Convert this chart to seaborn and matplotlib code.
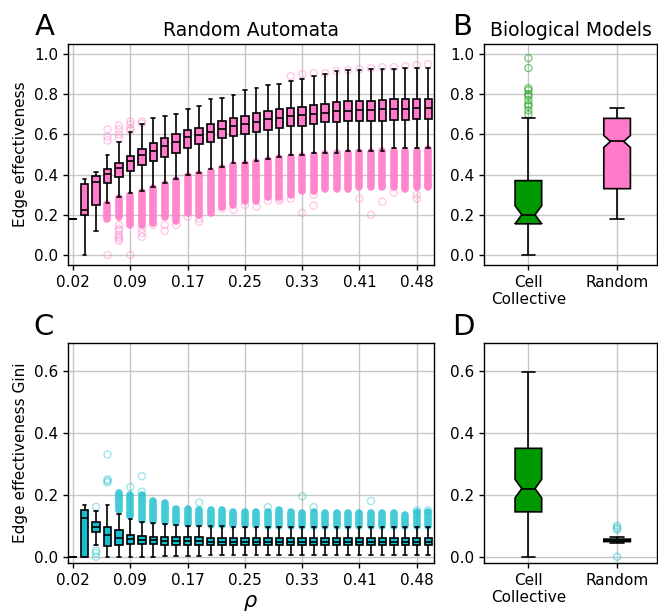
import numpy as np
import pandas as pd
import matplotlib
matplotlib.use("Agg")
import matplotlib.pyplot as plt
import seaborn as sns

# densities rho = k/64
rho = [0.0156, 0.0312, 0.0469, 0.0625, 0.0781, 0.0938, 0.1094, 0.1250,
       0.1406, 0.1562, 0.1719, 0.1875, 0.2031, 0.2188, 0.2344, 0.2500,
       0.2656, 0.2812, 0.2969, 0.3125, 0.3281, 0.3438, 0.3594, 0.3750,
       0.3906, 0.4062, 0.4219, 0.4375, 0.4531, 0.4688, 0.4844, 0.5000]
tick_idx = [0, 5, 10, 15, 20, 25, 30]

# --- A: edge effectiveness, random automata (whisker lo, q1, median, q3, whisker hi)
eff_lo = [0.18, 0.00, 0.12, 0.26, 0.29, 0.31, 0.32, 0.34, 0.36, 0.38, 0.40, 0.41,
          0.43, 0.44, 0.46, 0.46, 0.47, 0.48, 0.49, 0.50, 0.50, 0.51, 0.51, 0.51,
          0.52, 0.52, 0.52, 0.52, 0.53, 0.53, 0.53, 0.53]
eff_q1 = [0.18, 0.20, 0.25, 0.36, 0.39, 0.42, 0.45, 0.47, 0.49, 0.51, 0.53, 0.55,
          0.56, 0.58, 0.59, 0.60, 0.61, 0.62, 0.63, 0.64, 0.64, 0.65, 0.66, 0.66,
          0.665, 0.665, 0.667, 0.669, 0.67, 0.673, 0.676, 0.676]
eff_med = [0.18, 0.225, 0.365, 0.405, 0.432, 0.468, 0.498, 0.52, 0.54, 0.56, 0.586, 0.598,
           0.613, 0.628, 0.643, 0.65, 0.664, 0.678, 0.684, 0.693, 0.698, 0.703, 0.709, 0.716,
           0.719, 0.723, 0.723, 0.726, 0.728, 0.728, 0.731, 0.731]
eff_q3 = [0.18, 0.355, 0.395, 0.427, 0.46, 0.495, 0.527, 0.556, 0.581, 0.603, 0.62, 0.631,
          0.653, 0.668, 0.683, 0.694, 0.706, 0.716, 0.726, 0.734, 0.739, 0.747, 0.752, 0.759,
          0.764, 0.764, 0.768, 0.772, 0.774, 0.775, 0.777, 0.777]
eff_hi = [0.18, 0.38, 0.415, 0.50, 0.56, 0.61, 0.653, 0.681, 0.694, 0.703, 0.728, 0.742,
          0.776, 0.779, 0.796, 0.82, 0.83, 0.844, 0.85, 0.864, 0.877, 0.889, 0.90, 0.914,
          0.919, 0.922, 0.925, 0.925, 0.927, 0.93, 0.93, 0.933]
# dense cloud of outliers under the lower whisker (top, bottom); 0 = none
eff_band_hi = [0, 0, 0, 0.255, 0.285, 0.30, 0.315, 0.335, 0.355, 0.375, 0.395, 0.405,
               0.42, 0.435, 0.45, 0.455, 0.465, 0.475, 0.485, 0.49, 0.495, 0.50, 0.505, 0.51,
               0.51, 0.515, 0.515, 0.52, 0.52, 0.52, 0.52, 0.525]
eff_band_lo = [0, 0, 0, 0.18, 0.19, 0.15, 0.15, 0.16, 0.19, 0.17, 0.21, 0.20,
               0.21, 0.24, 0.25, 0.27, 0.27, 0.29, 0.29, 0.30, 0.32, 0.32, 0.33, 0.33,
               0.33, 0.34, 0.34, 0.34, 0.34, 0.33, 0.34, 0.34]
# isolated outliers
eff_fliers = [[], [], [], [0.625, 0.59, 0.57, 0.0],
              [0.645, 0.625, 0.60, 0.58, 0.15, 0.13, 0.12, 0.10, 0.09, 0.08, 0.07],
              [0.665, 0.65, 0.63, 0.62, 0.0], [0.665, 0.655, 0.13, 0.11, 0.09], [0.15],
              [0.15, 0.12], [0.15], [0.19], [0.18, 0.165],
              [], [0.23], [0.225], [0.25], [0.24], [0.27], [0.27, 0.28], [0.28, 0.89],
              [0.21, 0.90], [0.30, 0.245, 0.905], [0.905], [0.915],
              [0.92], [0.28, 0.925], [0.20, 0.93], [0.265, 0.935], [0.31, 0.935], [0.94],
              [0.28, 0.30, 0.945], [0.35, 0.95]]

# --- C: edge effectiveness Gini, random automata
gini_lo = [0, 0, 0.038, 0, 0, 0, 0, 0, 0.002, 0.003, 0.004, 0.004,
           0.005, 0.005, 0.006, 0.006, 0.006, 0.006, 0.006, 0.006, 0.006, 0.006, 0.006, 0.006,
           0.006, 0.006, 0.006, 0.006, 0.006, 0.006, 0.006, 0.006]
gini_q1 = [0, 0, 0.08, 0.035, 0.039, 0.042, 0.042, 0.04, 0.039, 0.038, 0.038, 0.038,
           0.037, 0.037, 0.037, 0.037, 0.037, 0.037, 0.037, 0.037, 0.037, 0.037, 0.037, 0.037,
           0.037, 0.037, 0.037, 0.037, 0.037, 0.037, 0.037, 0.037]
gini_med = [0, 0.125, 0.097, 0.071, 0.062, 0.057, 0.055, 0.053, 0.052, 0.05, 0.05, 0.05,
            0.049, 0.049, 0.049, 0.049, 0.049, 0.049, 0.049, 0.049, 0.049, 0.049, 0.049, 0.049,
            0.049, 0.049, 0.049, 0.049, 0.049, 0.049, 0.049, 0.049]
gini_q3 = [0, 0.152, 0.112, 0.095, 0.085, 0.071, 0.066, 0.065, 0.064, 0.063, 0.063, 0.063,
           0.062, 0.062, 0.062, 0.062, 0.062, 0.062, 0.062, 0.062, 0.062, 0.062, 0.062, 0.062,
           0.062, 0.062, 0.062, 0.062, 0.062, 0.062, 0.062, 0.062]
gini_hi = [0, 0.168, 0.148, 0.168, 0.138, 0.123, 0.113, 0.108, 0.105, 0.102, 0.10, 0.10,
           0.098, 0.098, 0.097, 0.097, 0.097, 0.097, 0.097, 0.097, 0.097, 0.097, 0.097, 0.097,
           0.097, 0.097, 0.097, 0.097, 0.097, 0.097, 0.097, 0.097]
gini_band_hi = [0, 0, 0, 0, 0.205, 0.20, 0.20, 0.18, 0.175, 0.155, 0.155, 0.15,
                0.15, 0.15, 0.145, 0.145, 0.145, 0.145, 0.15, 0.145, 0.14, 0.145, 0.14, 0.14,
                0.14, 0.14, 0.14, 0.14, 0.14, 0.135, 0.145, 0.145]
gini_band_lo = [0, 0, 0, 0, 0.15, 0.13, 0.12, 0.115, 0.112, 0.108, 0.105, 0.105,
                0.103, 0.102, 0.102, 0.101, 0.101, 0.10, 0.10, 0.10, 0.10, 0.10, 0.10, 0.10,
                0.10, 0.10, 0.10, 0.10, 0.10, 0.10, 0.10, 0.10]
gini_fliers = [[], [], [0.161, 0.02, 0.012, 0.0], [0.33, 0.25, 0.245, 0.24],
               [], [0.225], [0.26, 0.21], [], [], [], [], [0.175],
               [], [], [], [], [], [0.16], [], [], [0.195], [0.16], [], [],
               [], [], [0.18], [], [], [], [0.15], [0.15]]

# --- B / D: biological models vs random
groups = ["Cell\nCollective", "Random"]
bio_eff = {"lo": [0.0, 0.18], "q1": [0.155, 0.33], "med": [0.20, 0.565],
           "q3": [0.37, 0.68], "hi": [0.68, 0.73], "notch": [0.045, 0.03]}
bio_eff_fliers = [[0.70, 0.72, 0.74, 0.75, 0.77, 0.79, 0.80, 0.82, 0.83, 0.93, 0.98], []]
bio_gini = {"lo": [0.0, 0.043], "q1": [0.145, 0.049], "med": [0.22, 0.052],
            "q3": [0.35, 0.057], "hi": [0.595, 0.065], "notch": [0.03, 0.002]}
bio_gini_fliers = [[], [0.0, 0.088, 0.093, 0.10]]

pink = "#ff7ac8"
cyan = "#17becf"
green = "#009a00"

sns.set_theme(style="whitegrid", rc={
    "axes.edgecolor": "black", "axes.linewidth": 1.0,
    "grid.color": "0.78", "grid.linewidth": 1.0,
    "xtick.bottom": True, "ytick.left": True,
    "xtick.major.size": 3.5, "ytick.major.size": 3.5,
    "xtick.major.width": 1.0, "ytick.major.width": 1.0,
    "xtick.color": "black", "ytick.color": "black",
    "xtick.labelsize": 11, "ytick.labelsize": 11,
    "axes.labelsize": 11, "axes.titlesize": 13.5,
    "text.color": "black", "axes.labelcolor": "black",
})
plt.rcParams["font.family"] = ["DejaVu Sans"]


def long_frame(lo, q1, med, q3, hi, reps):
    rows = []
    for i, vals in enumerate(zip(lo, q1, med, q3, hi)):
        for v in vals:
            rows += [(i, v)] * reps[i]
    return pd.DataFrame(rows, columns=["pos", "value"])


def rho_panel(ax, lo, q1, med, q3, hi, band_lo, band_hi, fliers, color, band_alpha):
    n = len(lo)
    df = long_frame(lo, q1, med, q3, hi, [1] * n)
    # dense outlier clouds
    idx = [i for i in range(n) if band_hi[i] > 0]
    ax.vlines(idx, [band_lo[i] for i in idx], [band_hi[i] for i in idx],
              colors=color, linewidth=5.5, alpha=band_alpha, capstyle="round", zorder=1.5)
    fx = [i for i in range(n) for _ in fliers[i]]
    fy = [v for i in range(n) for v in fliers[i]]
    sns.scatterplot(x=fx, y=fy, ax=ax, marker="o", s=26, facecolor="none",
                    edgecolor=color, linewidth=1.0, alpha=0.4, zorder=1.6)
    sns.boxplot(data=df, x="pos", y="value", order=list(range(n)), ax=ax,
                color=color, linecolor="black", linewidth=1.2, width=0.65,
                whis=(0, 100), showfliers=False, saturation=1)
    ax.set_xticks(tick_idx)
    ax.set_xticklabels([f"{rho[i]:.2f}" for i in tick_idx])
    ax.set_xlim(-0.45, n - 0.5)
    ax.set_xlabel("")


def bio_panel(ax, st, fliers, colors):
    reps = []
    for i in range(2):
        iqr = st["q3"][i] - st["q1"][i]
        nobs = (1.57 * iqr / st["notch"][i]) ** 2
        reps.append(max(1, int(round(nobs / 5))))
    df = long_frame(st["lo"], st["q1"], st["med"], st["q3"], st["hi"], reps)
    df["group"] = [groups[p] for p in df["pos"]]
    sns.boxplot(data=df, x="group", y="value", hue="group", order=groups,
                hue_order=groups, palette=colors, legend=False, ax=ax,
                linecolor="black", linewidth=1.2, width=0.3, notch=True,
                whis=(0, 100), showfliers=False, saturation=1)
    for i in range(2):
        if fliers[i]:
            sns.scatterplot(x=[i] * len(fliers[i]), y=fliers[i], ax=ax, marker="o",
                            s=26, facecolor="none", edgecolor=colors[i],
                            linewidth=1.0, alpha=0.5, zorder=1.6)
    ax.set_xlim(-0.5, 1.45)
    ax.set_xlabel("")
    ax.set_ylabel("")


fig = plt.figure(figsize=(6.58, 6.15), dpi=100)
axA = fig.add_axes([0.1033, 0.5691, 0.5562, 0.3593])
axB = fig.add_axes([0.7356, 0.5691, 0.2629, 0.3593])
axC = fig.add_axes([0.1033, 0.0846, 0.5562, 0.3577])
axD = fig.add_axes([0.7356, 0.0846, 0.2629, 0.3577])

rho_panel(axA, eff_lo, eff_q1, eff_med, eff_q3, eff_hi,
          eff_band_lo, eff_band_hi, eff_fliers, pink, 0.9)
axA.set_ylim(-0.05, 1.05)
axA.set_ylabel("Edge effectiveness")
axA.set_title("Random Automata")

rho_panel(axC, gini_lo, gini_q1, gini_med, gini_q3, gini_hi,
          gini_band_lo, gini_band_hi, gini_fliers, cyan, 0.8)
axC.set_ylim(-0.02, 0.69)
axC.set_yticks([0.0, 0.2, 0.4, 0.6])
axC.set_ylabel("Edge effectiveness Gini")
axC.set_xlabel(r"$\rho$", fontsize=15)

bio_panel(axB, bio_eff, bio_eff_fliers, [green, pink])
axB.set_ylim(-0.05, 1.05)
axB.set_title("Biological Models")

bio_panel(axD, bio_gini, bio_gini_fliers, [green, cyan])
axD.set_ylim(-0.02, 0.69)
axD.set_yticks([0.0, 0.2, 0.4, 0.6])

for ax in (axA, axB, axC, axD):
    ax.set_yticklabels([f"{t:.1f}" for t in ax.get_yticks()])
    for s in ax.spines.values():
        s.set_color("black")
    ax.grid(True, axis="both")

for letter, x, y in [("A", 35, 35), ("B", 452, 35), ("C", 33, 335), ("D", 452, 335)]:
    fig.text(x / 658, 1 - y / 615, letter, fontsize=21, ha="left", va="baseline")

fig.savefig("out.png", dpi=100)
